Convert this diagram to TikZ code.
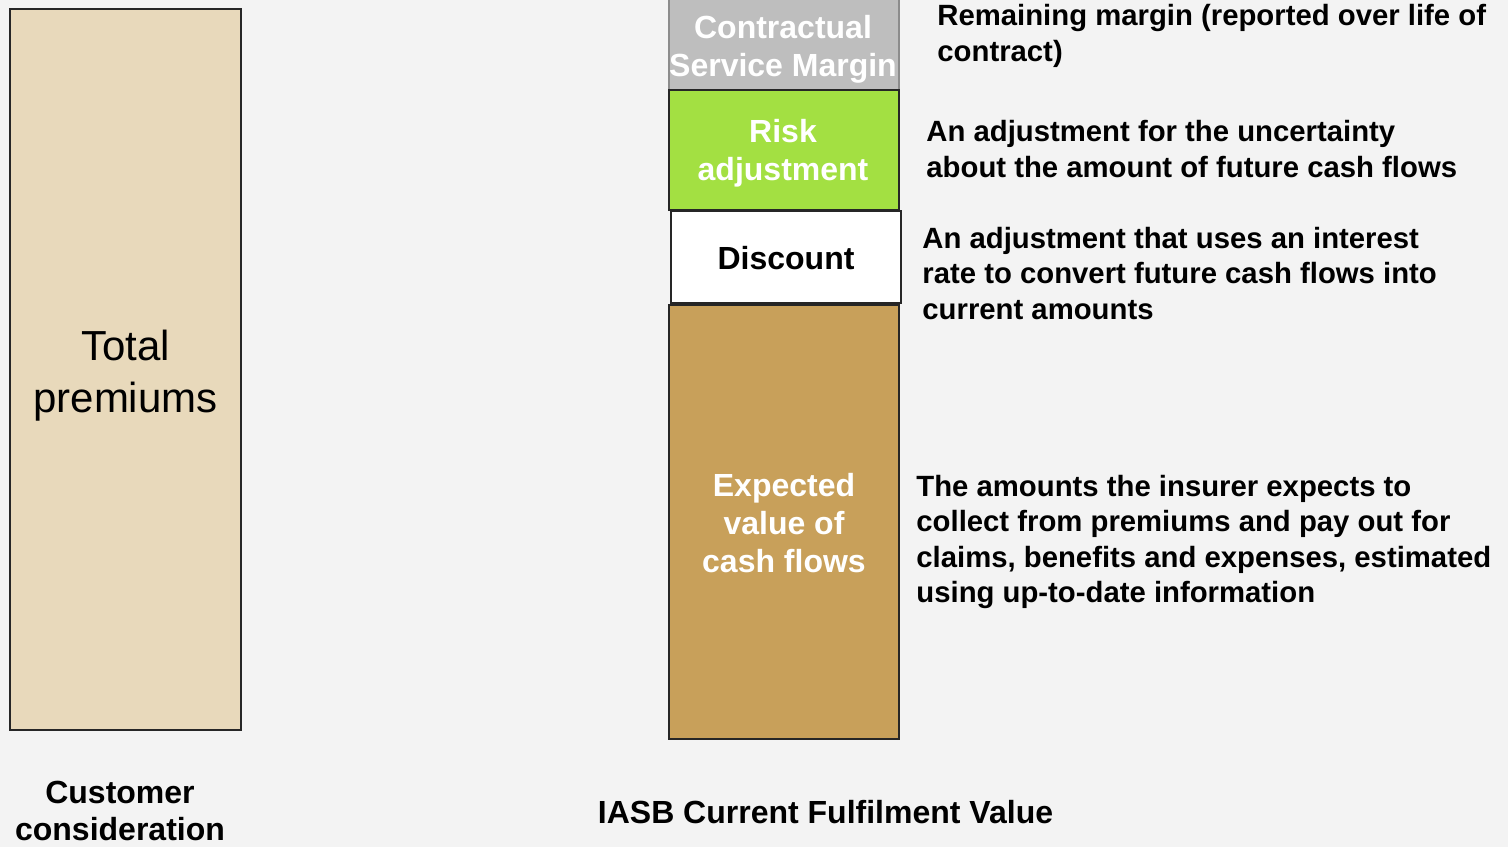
\documentclass[tikz,border=0pt]{standalone}
\usepackage{fontspec}
\setmainfont{Liberation Sans}
\definecolor{bgcol}{HTML}{F3F3F3}
\definecolor{tancol}{HTML}{E8D9BB}
\definecolor{goldcol}{HTML}{C8A05A}
\definecolor{greencol}{HTML}{A3E042}
\definecolor{greycol}{HTML}{BEBEBE}
\begin{document}
\begin{tikzpicture}[x=0.5pt,y=-0.5pt,
  block/.style={draw=black!85,line width=1pt},
  boxlabel/.style={font=\fontsize{16}{19}\selectfont\bfseries,align=center,inner sep=0pt},
  note/.style={font=\fontsize{14.65}{17.6}\selectfont\bfseries,align=left,anchor=west,inner sep=0pt},
  caption/.style={font=\fontsize{16}{18.5}\selectfont\bfseries,align=center,inner sep=0pt}]
% page and background
\fill[bgcol] (0,0) rectangle (1508,847);
\useasboundingbox (0,0) rectangle (1508,847);

% left column: the premium received
\draw[block,fill=tancol] (10,9) rectangle (241,730);
\node[font=\fontsize{21}{26}\selectfont,align=center,inner sep=0pt] (total) at (125.5,375.5) {Total\\premiums};

% right column: building blocks of the fulfilment value
\draw[block,draw=black!45,fill=greycol] (669,-5) rectangle (899,90);
\node[boxlabel,text=white] (csm) at (783,49) {Contractual\\Service Margin};
\draw[block,fill=greencol] (669,90) rectangle (899,210);
\node[boxlabel,text=white] (risk) at (783,153) {Risk\\adjustment};
\draw[block,fill=white] (671,211) rectangle (901,303);
\node[boxlabel,text=black] (disc) at (786,258.5) {Discount};
\draw[block,fill=goldcol] (669,305) rectangle (899,739);
\node[boxlabel,text=white] (ev) at (784,523.5) {Expected\\value of\\cash flows};

% explanations
\node[note] (n1) at (937,36) {Remaining margin (reported over life of\\contract)};
\node[note] (n2) at (926,149) {An adjustment for the uncertainty\\about the amount of future cash flows};
\node[note] (n3) at (922,273.5) {An adjustment that uses an interest\\rate to convert future cash flows into\\current amounts};
\node[note] (n4) at (916,542) {The amounts the insurer expects to\\collect from premiums and pay out for\\claims, benefits and expenses, estimated\\using up-to-date information};

% captions
\node[caption] (c1) at (120,811) {Customer\\consideration};
\node[caption] (c2) at (825.5,812) {IASB Current Fulfilment Value};
\end{tikzpicture}
\end{document}
